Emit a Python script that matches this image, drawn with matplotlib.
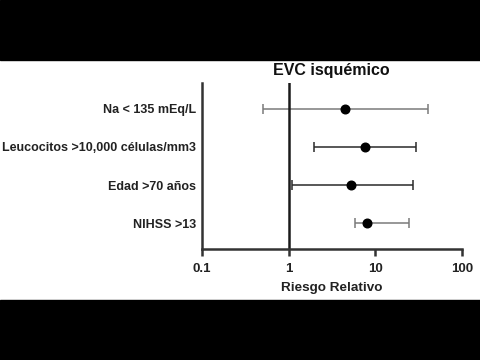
import numpy as np
import matplotlib.pyplot as plt
from matplotlib.patches import Rectangle

# ---------- Data ----------

labels = ['Na < 135 mEq/L', 'Leucocitos >10,000 células/mm3', 'Edad >70 años', 'NIHSS >13']
rr = [4.5, 7.7, 5.25, 7.95]       # riesgo relativo
ci_low = [0.51, 1.97, 1.09, 5.9]
ci_high = [40.5, 29.6, 26.9, 24.6]
bar_colors = ['#7a7a7a', '#2a2a2a', '#2a2a2a', '#7a7a7a']
xticks = [0.1, 1, 10, 100]
xticklabels = ['0.1', '1', '10', '100']

# ---------- Figure ----------

plt.rcParams['font.family'] = ['Liberation Sans', 'DejaVu Sans']
fig = plt.figure(figsize=(4.8, 3.6), dpi=100)
ax = fig.add_axes([202/480, 1-249/360, 260/480, 166/360])

ypos = np.arange(len(labels))[::-1] + 1  # first row on top
for i in range(len(labels)):
    err = [[rr[i]-ci_low[i]], [ci_high[i]-rr[i]]]
    ax.errorbar(rr[i], ypos[i], xerr=err, fmt='none', ecolor=bar_colors[i],
                elinewidth=1.1, capsize=3.5, capthick=1.1)
    ax.plot(rr[i], ypos[i], 'o', color='black', markersize=6.2)

ax.axvline(1, color='#1a1a1a', lw=1.8)
ax.set_xscale('log')
ax.set_xlim(0.1, 100)
ax.set_ylim(0.32, 4.68)
ax.set_xticks(xticks)
ax.set_xticklabels(xticklabels, fontsize=9.5, fontweight='bold', color='#222222')
ax.xaxis.set_minor_locator(plt.NullLocator())
ax.set_yticks(ypos)
ax.set_yticklabels(labels, fontsize=9, fontweight='bold', color='#222222')
ax.tick_params(axis='y', length=0, pad=4)
ax.tick_params(axis='x', length=5, width=1.8, color='#333333', pad=5)
for s in ['top', 'right']:
    ax.spines[s].set_visible(False)
for s in ['left', 'bottom']:
    ax.spines[s].set_linewidth(1.8)
    ax.spines[s].set_color('#333333')

ax.set_xlabel('Riesgo Relativo', fontsize=9.7, fontweight='bold', color='#222222', labelpad=5)
fig.text(331/480, 1-71/360, 'EVC isquémico', fontsize=11.5, fontweight='bold',
         ha='center', va='center', color='#111111')

# letterbox bands
fig.patches.append(Rectangle((0, 1-60/360), 1, 60/360, transform=fig.transFigure, color='black', zorder=10))
fig.patches.append(Rectangle((0, 0), 1, 60/360, transform=fig.transFigure, color='black', zorder=10))

fig.savefig('out.png', dpi=100)
